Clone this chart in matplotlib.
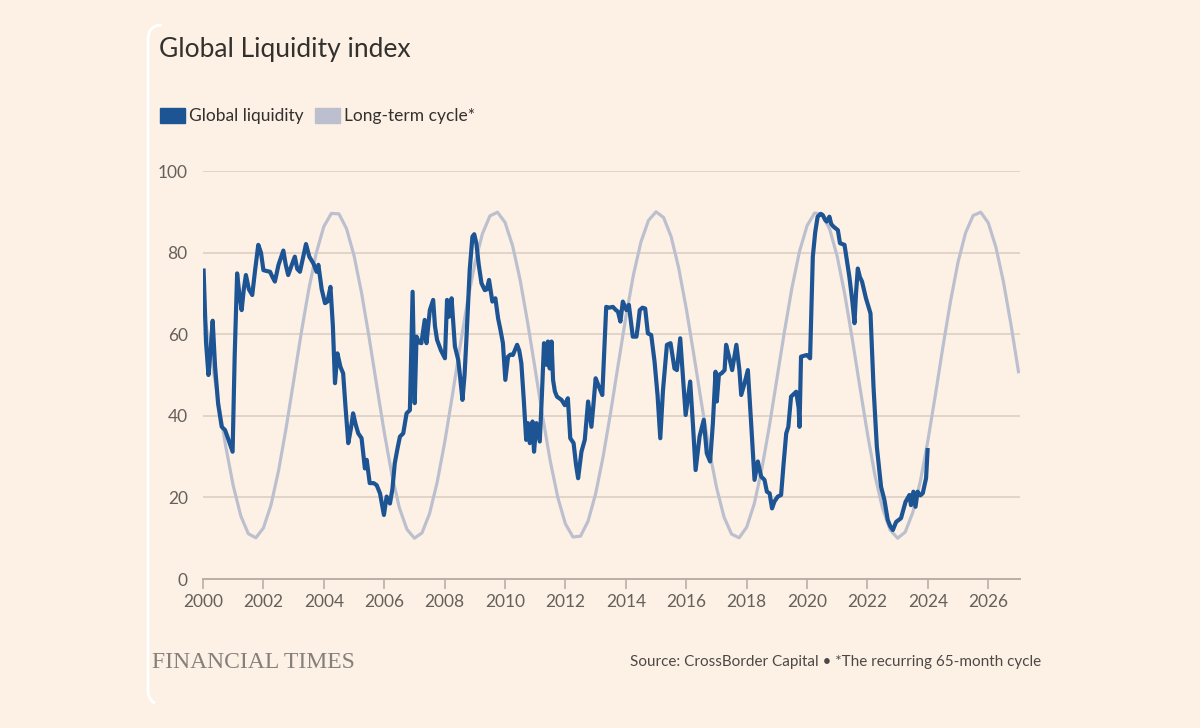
import matplotlib
matplotlib.use("Agg")
import matplotlib.pyplot as plt
import numpy as np
from matplotlib.path import Path
from matplotlib.patches import PathPatch, Rectangle

# --- data ---
liq_years = [
    2000.02, 2000.10, 2000.18, 2000.25, 2000.32, 2000.40, 2000.50, 2000.62, 2000.73, 2000.85,
    2000.98, 2001.05, 2001.13, 2001.20, 2001.28, 2001.35, 2001.42, 2001.52, 2001.63, 2001.73,
    2001.83, 2001.92, 2002.00, 2002.10, 2002.22, 2002.30, 2002.38, 2002.50, 2002.66, 2002.74,
    2002.82, 2002.94, 2003.04, 2003.12, 2003.21, 2003.32, 2003.41, 2003.52, 2003.65, 2003.76,
    2003.82, 2003.93, 2004.04, 2004.12, 2004.22, 2004.30, 2004.37, 2004.45, 2004.55, 2004.64,
    2004.72, 2004.81, 2004.90, 2004.97, 2005.05, 2005.14, 2005.25, 2005.36, 2005.42, 2005.52,
    2005.65, 2005.75, 2005.86, 2005.92, 2005.99, 2006.08, 2006.19, 2006.27, 2006.35, 2006.44,
    2006.52, 2006.63, 2006.74, 2006.85, 2006.94, 2007.01, 2007.07, 2007.15, 2007.23, 2007.34,
    2007.40, 2007.51, 2007.62, 2007.68, 2007.75, 2007.88, 2008.01, 2008.08, 2008.15, 2008.23,
    2008.34, 2008.45, 2008.52, 2008.59, 2008.66, 2008.72, 2008.78, 2008.83, 2008.92, 2008.98,
    2009.05, 2009.13, 2009.22, 2009.33, 2009.40, 2009.47, 2009.58, 2009.68, 2009.77, 2009.85,
    2009.93, 2010.01, 2010.10, 2010.18, 2010.26, 2010.40, 2010.47, 2010.54, 2010.62, 2010.70,
    2010.76, 2010.82, 2010.91, 2010.96, 2011.04, 2011.15, 2011.22, 2011.29, 2011.37, 2011.42,
    2011.48, 2011.54, 2011.59, 2011.65, 2011.72, 2011.87, 2011.98, 2012.08, 2012.16, 2012.27,
    2012.35, 2012.42, 2012.53, 2012.64, 2012.75, 2012.86, 2012.93, 2013.00, 2013.11, 2013.22,
    2013.28, 2013.35, 2013.45, 2013.57, 2013.66, 2013.74, 2013.82, 2013.90, 2014.02, 2014.10,
    2014.17, 2014.23, 2014.35, 2014.40, 2014.46, 2014.55, 2014.64, 2014.73, 2014.84, 2014.95,
    2015.05, 2015.14, 2015.23, 2015.36, 2015.48, 2015.61, 2015.69, 2015.80, 2015.87, 2015.98,
    2016.13, 2016.22, 2016.31, 2016.44, 2016.58, 2016.68, 2016.79, 2016.88, 2016.97, 2017.01,
    2017.08, 2017.18, 2017.27, 2017.32, 2017.43, 2017.52, 2017.66, 2017.76, 2017.82, 2017.93,
    2018.04, 2018.15, 2018.26, 2018.37, 2018.48, 2018.59, 2018.67, 2018.76, 2018.84, 2018.92,
    2019.03, 2019.14, 2019.22, 2019.31, 2019.38, 2019.47, 2019.64, 2019.72, 2019.75, 2019.80,
    2019.99, 2020.10, 2020.15, 2020.19, 2020.27, 2020.35, 2020.45, 2020.52, 2020.60, 2020.65,
    2020.74, 2020.80, 2020.87, 2021.02, 2021.09, 2021.24, 2021.32, 2021.40, 2021.50, 2021.57,
    2021.62, 2021.68, 2021.75, 2021.82, 2021.95, 2022.10, 2022.20, 2022.31, 2022.45, 2022.56,
    2022.67, 2022.75, 2022.84, 2022.95, 2023.11, 2023.26, 2023.39, 2023.44, 2023.52, 2023.59,
    2023.66, 2023.75, 2023.83, 2023.94, 2023.99,
]
liq_values = [
    75.6, 58.0, 50.0, 56.0, 63.3, 52.0, 43.0, 37.3, 36.5, 34.0,
    31.2, 55.0, 74.9, 70.0, 65.9, 71.0, 74.5, 71.0, 69.6, 76.0,
    81.9, 80.0, 75.7, 75.5, 75.3, 74.0, 72.9, 77.0, 80.5, 77.0,
    74.5, 77.0, 79.0, 76.0, 75.3, 79.0, 82.1, 79.0, 77.4, 75.3,
    77.0, 71.0, 67.6, 68.0, 71.6, 62.0, 48.0, 55.3, 52.0, 50.4,
    42.0, 33.3, 37.0, 40.6, 38.0, 35.7, 34.5, 27.1, 29.2, 23.5,
    23.5, 23.0, 21.0, 18.5, 15.7, 20.2, 18.5, 22.0, 28.4, 32.0,
    34.9, 35.7, 40.6, 41.4, 70.4, 43.1, 59.4, 58.0, 57.8, 63.5,
    57.8, 65.9, 68.4, 62.0, 58.6, 56.0, 54.1, 68.4, 64.3, 68.8,
    57.0, 53.7, 49.0, 43.9, 50.0, 58.6, 68.0, 75.7, 83.9, 84.5,
    82.3, 77.0, 72.5, 70.8, 71.0, 73.3, 68.0, 68.8, 63.9, 61.0,
    57.8, 48.8, 54.5, 55.0, 54.9, 57.4, 56.0, 52.9, 44.0, 34.1,
    38.2, 33.3, 38.6, 31.2, 38.2, 33.7, 45.0, 57.8, 52.5, 58.2,
    51.6, 58.2, 48.8, 46.0, 44.7, 43.9, 42.6, 44.3, 34.5, 33.3,
    28.0, 24.7, 31.2, 34.1, 43.5, 37.3, 43.0, 49.2, 47.1, 45.1,
    55.0, 66.7, 66.5, 66.7, 66.0, 65.5, 63.1, 68.0, 65.9, 67.2,
    63.0, 59.4, 59.4, 62.0, 65.9, 66.5, 66.3, 60.2, 59.8, 53.3,
    45.0, 34.5, 46.3, 57.4, 57.8, 51.6, 51.2, 59.0, 51.6, 40.2,
    48.4, 38.0, 26.7, 34.9, 39.0, 30.8, 28.8, 38.0, 50.8, 43.5,
    50.0, 50.5, 51.2, 57.4, 54.1, 51.2, 57.4, 51.2, 45.1, 48.0,
    51.2, 38.0, 24.3, 28.8, 25.1, 24.3, 21.4, 21.0, 17.3, 19.0,
    20.2, 20.6, 28.0, 35.7, 37.3, 44.7, 45.9, 42.0, 37.3, 54.5,
    54.9, 54.1, 68.0, 79.0, 85.0, 88.8, 89.5, 89.2, 88.0, 87.6,
    88.8, 87.0, 86.4, 85.5, 82.3, 81.9, 78.0, 74.1, 68.0, 62.7,
    70.0, 76.1, 74.0, 72.9, 68.8, 65.1, 47.1, 32.4, 22.6, 19.4,
    14.5, 13.0, 12.0, 14.0, 14.9, 18.9, 20.6, 18.1, 21.4, 17.7,
    21.4, 20.5, 21.0, 24.7, 31.6,
]

# long-term cycle, quarterly readings from 2000.0 to 2027.0
cycle_start = 2000.0
cycle_step = 0.25
cycle_values = [
    66.8, 55.5, 43.8, 32.6, 22.9, 15.5, 11.1, 10.1, 12.5, 18.1,
    26.5, 36.9, 48.5, 60.2, 70.9, 79.9, 86.4, 89.6, 89.5, 85.9,
    79.3, 70.1, 59.2, 47.5, 36.0, 25.7, 17.5, 12.2, 10.0, 11.3,
    16.0, 23.6, 33.4, 44.7, 56.5, 67.7, 77.3, 84.6, 89.0, 89.9,
    87.4, 81.7, 73.3, 62.8, 51.3, 39.6, 28.8, 19.9, 13.5, 10.3,
    10.5, 14.2, 20.9, 30.1, 41.0, 52.7, 64.2, 74.5, 82.6, 87.9,
    90.0, 88.6, 83.9, 76.2, 66.3, 55.0, 43.3, 32.1, 22.5, 15.2,
    11.0, 10.1, 12.7, 18.4, 26.9, 37.4, 49.0, 60.6, 71.4, 80.3,
    86.6, 89.7, 89.4, 85.7, 79.0, 69.7, 58.7, 47.0, 35.6, 25.3,
    17.3, 12.0, 10.0, 11.5, 16.3, 23.9, 33.9, 45.2, 57.0, 68.1,
    77.7, 84.9, 89.1, 89.9, 87.3, 81.4, 72.9, 62.4, 50.8,
]

x_ticks = list(range(2000, 2027, 2))
y_ticks = [0, 20, 40, 60, 80, 100]

BG = "#FDF1E6"
BLUE = "#1D5494"
GREY = "#BCC0CE"
TEXT = "#66605B"

plt.rcParams["font.family"] = ["Lato", "DejaVu Sans"]

W, H = 1200, 728
fig = plt.figure(figsize=(W / 100, H / 100), dpi=100, facecolor=BG)

def fx(px):
    return px / W

def fy(py):
    return 1 - py / H

ax = fig.add_axes([fx(203), fy(579), fx(1020) - fx(203), fy(171) - fy(579)])
ax.set_facecolor(BG)

cycle_years = cycle_start + cycle_step * np.arange(len(cycle_values))
ax.plot(cycle_years, cycle_values, color=GREY, lw=2.3, solid_joinstyle="round", zorder=2)
ax.plot(liq_years, liq_values, color=BLUE, lw=3.0, solid_joinstyle="round", zorder=3)

ax.set_xlim(2000, 2027.05)
ax.set_ylim(0, 100)
ax.set_xticks(x_ticks)
ax.set_yticks(y_ticks)
ax.yaxis.grid(True, color="#D9CDC2", lw=1.1)
ax.set_axisbelow(True)
for s in ["top", "right", "left"]:
    ax.spines[s].set_visible(False)
ax.spines["bottom"].set_color("#B9AFA6")
ax.spines["bottom"].set_linewidth(1.4)
ax.tick_params(axis="x", length=7, width=1.2, color="#B9AFA6", labelsize=12.5,
               labelcolor=TEXT, pad=4)
ax.tick_params(axis="y", length=0, labelsize=12.5, labelcolor=TEXT, pad=11)

# title
fig.text(fx(159), fy(50), "Global Liquidity index", fontsize=19, color="#33302E",
         va="center", ha="left")

# legend
fig.add_artist(Rectangle((fx(160), fy(123)), fx(25), fy(108) - fy(123),
                         transform=fig.transFigure, color=BLUE))
fig.text(fx(189), fy(116), "Global liquidity", fontsize=12.5, color="#33302E",
         va="center", ha="left")
fig.add_artist(Rectangle((fx(315), fy(123)), fx(25), fy(108) - fy(123),
                         transform=fig.transFigure, color=GREY))
fig.text(fx(344), fy(116), "Long-term cycle*", fontsize=12.5, color="#33302E",
         va="center", ha="left")

# footer
fig.text(fx(152), fy(662), "FINANCIAL TIMES", fontsize=17, color="#85807B",
         family=["Liberation Serif", "DejaVu Serif"], va="center", ha="left")
fig.text(fx(1041), fy(662), "Source: CrossBorder Capital \u2022 *The recurring 65-month cycle",
         fontsize=11, color="#4D4845",
         family=["Lato", "DejaVu Sans"], va="center", ha="right")

# white card edge on the left
verts = [(fx(162), fy(25)), (fx(148), fy(25)), (fx(148), fy(40)),
         (fx(148), fy(690)), (fx(148), fy(700)), (fx(155), fy(703))]
codes = [Path.MOVETO, Path.CURVE3, Path.CURVE3, Path.LINETO, Path.CURVE3, Path.CURVE3]
fig.add_artist(PathPatch(Path(verts, codes), transform=fig.transFigure,
                         facecolor="none", edgecolor="white", lw=2.0))

fig.savefig("out.png", dpi=100, facecolor=BG)
